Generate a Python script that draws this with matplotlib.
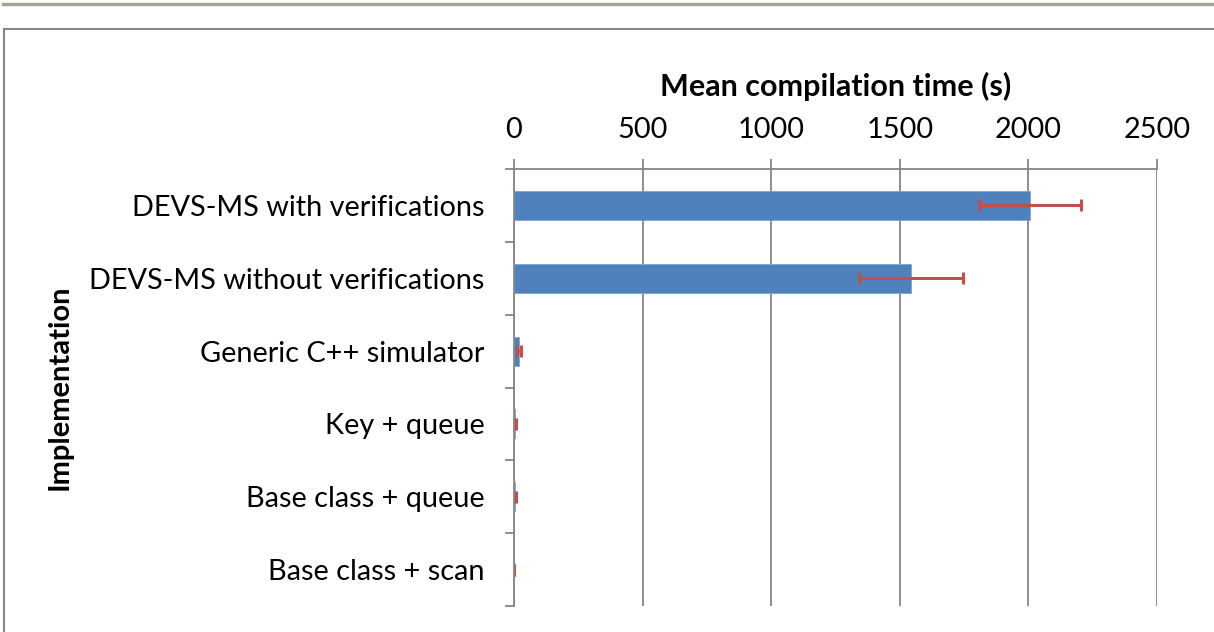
import numpy as np
import matplotlib.pyplot as plt
from matplotlib.lines import Line2D
from matplotlib.patches import Rectangle

# dane
kategorie = ['DEVS-MS with verifications', 'DEVS-MS without verifications',
             'Generic C++ simulator', 'Key + queue', 'Base class + queue',
             'Base class + scan']
czasy = [2006, 1543, 18, 3, 3, 0]
bledy = [200, 202, 8, 3, 3, 0]
ticki_x = [0, 500, 1000, 1500, 2000, 2500]

plt.rcParams['font.family'] = ['Lato', 'DejaVu Sans']
fs = 20.8

fig = plt.figure(figsize=(12.14, 6.32), dpi=100)
W, H = 1214, 632
ax = fig.add_axes([514 / W, 1 - 606 / H, (1157 - 514) / W, (606 - 169) / H])

y = np.arange(len(kategorie))
ax.barh(y, czasy, height=0.4, color='#4F81BD', edgecolor='#7FA3D2', linewidth=0.6, zorder=2.2)
ax.errorbar(czasy, y, xerr=bledy, fmt='none', ecolor='#C0504D', elinewidth=2.2,
            capsize=4.5, capthick=2.2, zorder=2.4)

ax.set_ylim(len(kategorie) - 0.5, -0.5)
ax.set_yticks(y)
ax.set_yticklabels(kategorie, fontsize=fs)
ax.set_yticks(np.arange(len(kategorie) + 1) - 0.5, minor=True)
ax.tick_params(axis='y', which='major', length=0, pad=21)
ax.tick_params(axis='y', which='minor', length=6.5, width=1.3, color='#868686')

ax.set_xlim(0, 2500)
ax.set_xticks(ticki_x)
ax.xaxis.tick_top()
ax.xaxis.set_label_position('top')
ax.tick_params(axis='x', length=7, width=1.3, color='#868686', labelsize=fs, pad=12)
ax.grid(axis='x', color='#868686', linewidth=1.3, zorder=0)
ax.set_axisbelow(True)

for s in ['right', 'bottom']:
    ax.spines[s].set_visible(False)
for s in ['top', 'left']:
    ax.spines[s].set_color('#868686')
    ax.spines[s].set_linewidth(1.3)

ax.set_xlabel('Mean compilation time (s)', fontsize=22, fontweight='bold', labelpad=15)
ax.set_ylabel('Implementation', fontsize=21, fontweight='bold', labelpad=12)

# ramka i linia u gory
fig.add_artist(Rectangle((4 / W, -0.1), 1.2, 1 - 29 / H + 0.1, transform=fig.transFigure,
                         fill=False, edgecolor='#868686', linewidth=1.5))
fig.add_artist(Line2D([3 / W, 1], [1 - 4 / H, 1 - 4 / H], transform=fig.transFigure,
                      color='#A5A598', linewidth=2.5))

plt.savefig('out.png', dpi=100)
